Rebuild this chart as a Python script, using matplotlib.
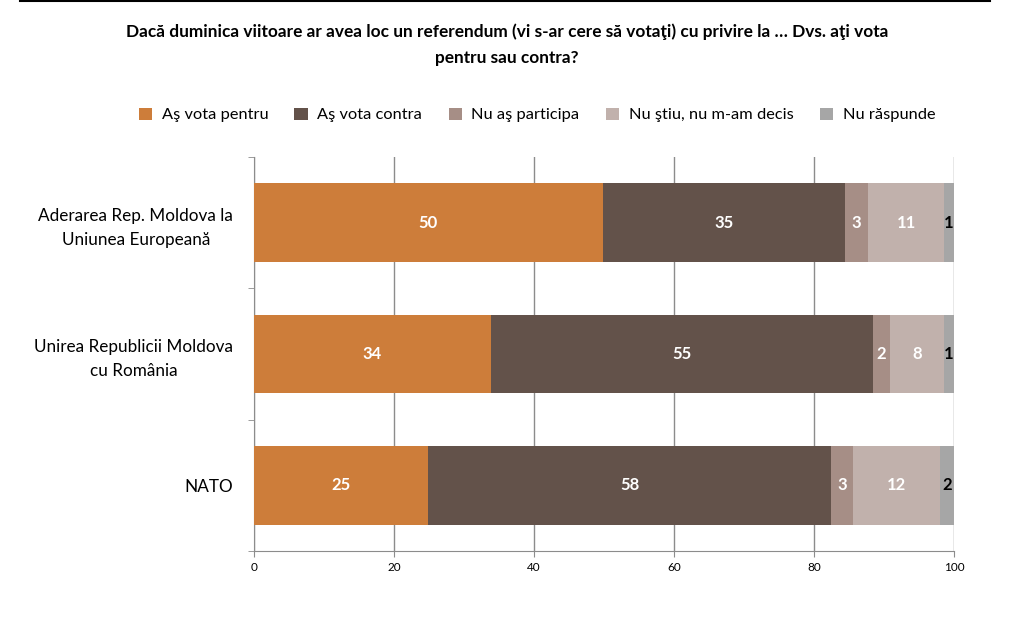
import matplotlib

matplotlib.use("Agg")
import matplotlib.pyplot as plt
from matplotlib.lines import Line2D
from matplotlib.patches import Patch

plt.rcParams["font.family"] = ["Lato", "DejaVu Sans"]

categories = [
    "Aderarea Rep. Moldova la\nUniunea Europeană",
    "Unirea Republicii Moldova\ncu România",
    "NATO",
]
series_names = [
    "Aş vota pentru",
    "Aş vota contra",
    "Nu aş participa",
    "Nu ştiu, nu m-am decis",
    "Nu răspunde",
]
vota_pentru = [49.8, 33.8, 24.9]
vota_contra = [34.6, 54.7, 57.6]
nu_participa = [3.3, 2.3, 3.1]
nu_stiu = [10.9, 7.8, 12.4]
nu_raspunde = [1.4, 1.4, 2.0]
colors = ["#CD7D3A", "#63524A", "#A68E86", "#C1B1AC", "#A6A6A6"]
label_colors = ["white", "white", "white", "white", "black"]
x_ticks = [0, 20, 40, 60, 80, 100]

title = ("Dacă duminica viitoare ar avea loc un referendum (vi s-ar cere să votaţi) "
         "cu privire la … Dvs. aţi vota\npentru sau contra?")

fig = plt.figure(figsize=(10.14, 6.29), dpi=100)
ax = fig.add_axes([254 / 1014, 1 - 551 / 629, 700 / 1014, 394 / 629])

series = [vota_pentru, vota_contra, nu_participa, nu_stiu, nu_raspunde]
ypos = list(range(len(categories)))
left = [0.0] * len(categories)
for name, vals, col, lcol in zip(series_names, series, colors, label_colors):
    bars = ax.barh(ypos, vals, left=left, height=0.6, color=col, label=name, zorder=3)
    for b, v in zip(bars, vals):
        ax.text(b.get_x() + b.get_width() / 2, b.get_y() + b.get_height() / 2,
                f"{v:.0f}", ha="center", va="center", color=lcol,
                fontsize=12, fontweight="bold", zorder=4)
    left = [l + v for l, v in zip(left, vals)]

ax.set_xlim(0, 100)
ax.set_ylim(len(categories) - 0.5, -0.5)
ax.set_xticks(x_ticks)
ax.set_xticklabels([str(t) for t in x_ticks], fontsize=8.5)
ax.set_yticks(ypos)
ax.set_yticklabels(categories, fontsize=12.3, multialignment="center", linespacing=1.6)
ax.set_yticks([-0.5, 0.5, 1.5, 2.5], minor=True)
ax.tick_params(axis="y", which="major", length=0, pad=15)
ax.tick_params(axis="y", which="minor", length=4, color="#8c8c8c")
ax.tick_params(axis="x", length=4, color="#8c8c8c", pad=4)
ax.grid(axis="x", color="#8c8c8c", linewidth=1, zorder=0)
for s in ["top", "right"]:
    ax.spines[s].set_visible(False)
for s in ["left", "bottom"]:
    ax.spines[s].set_color("#8c8c8c")

handles = [Patch(facecolor=c, edgecolor="none") for c in colors]
fig.legend(handles, series_names, loc="center", bbox_to_anchor=(537 / 1014, 1 - 115 / 629),
           ncol=5, frameon=False, fontsize=11.8, handlelength=0.8, handleheight=0.8,
           handletextpad=0.6, columnspacing=1.6)

fig.text(507 / 1014, 1 - 44.5 / 629, title, ha="center", va="center",
         fontsize=12.4, fontweight="bold", linespacing=1.75)
fig.add_artist(Line2D([20 / 1014, 990 / 1014], [1 - 1 / 629] * 2, color="black", linewidth=1.5))

fig.savefig("out.png", dpi=100)
plt.close(fig)
